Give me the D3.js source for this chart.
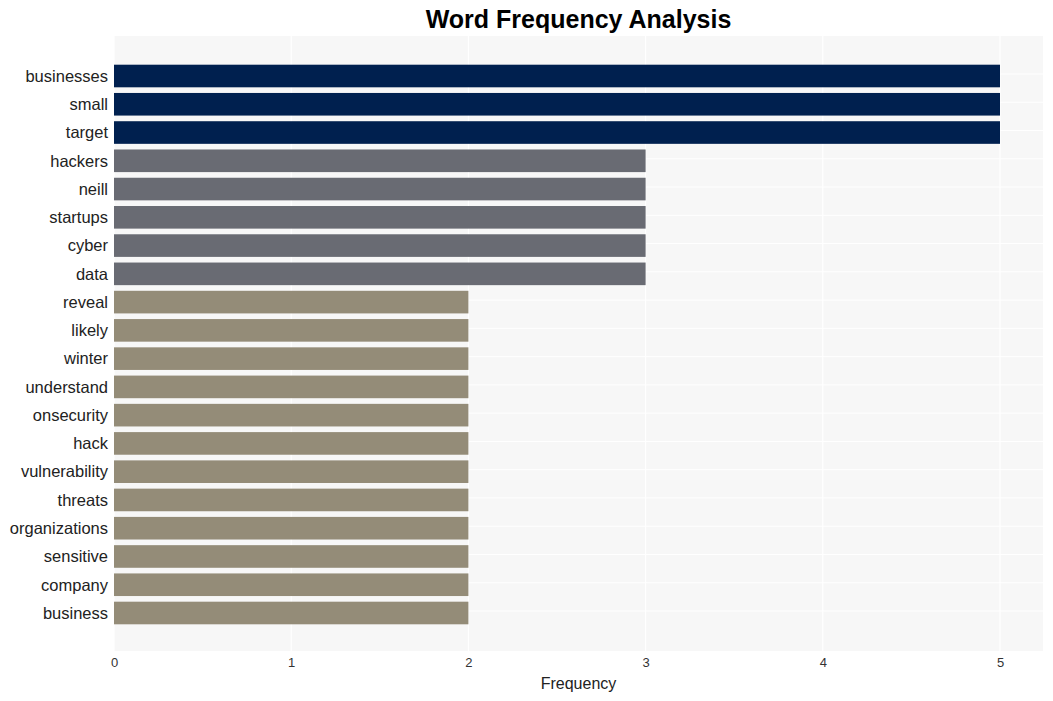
<!DOCTYPE html>
<html>
<head>
<meta charset="utf-8">
<script src="https://cdn.jsdelivr.net/npm/d3@7"></script>
<style>
  body { margin: 0; background: #fff; font-family: "Liberation Sans", Arial, sans-serif; }
  .tick text { fill: #333; }
</style>
</head>
<body>
<div id="chart"></div>
<script>
// words and counts, top to bottom
const words = ["businesses", "small", "target", "hackers", "neill", "startups", "cyber", "data",
  "reveal", "likely", "winter", "understand", "onsecurity", "hack", "vulnerability", "threats",
  "organizations", "sensitive", "company", "business"];
const counts = [5, 5, 5, 3, 3, 3, 3, 3, 2, 2, 2, 2, 2, 2, 2, 2, 2, 2, 2, 2];
const xTicks = [0, 1, 2, 3, 4, 5];

const width = 1053, height = 701;
const plot = { left: 114, top: 36, right: 1043, bottom: 651 };

const colorFor = v => v >= 5 ? "#00204f" : v >= 3 ? "#696b73" : "#948c78";

const svg = d3.select("#chart").append("svg")
    .attr("width", width)
    .attr("height", height);

const x = d3.scaleLinear()
    .domain([0, 5])
    .range([plot.left, 1000]);

const y = d3.scaleBand()
    .domain(words)
    .range([plot.top + 1, plot.bottom + 1])
    .paddingInner(0.2)
    .paddingOuter(0.98);

// background
svg.append("rect")
    .attr("x", plot.left)
    .attr("y", plot.top)
    .attr("width", plot.right - plot.left)
    .attr("height", plot.bottom - plot.top)
    .attr("fill", "#f7f7f7");

// grid
svg.append("g")
    .selectAll("line")
    .data(xTicks)
    .enter()
    .append("line")
        .attr("x1", d => x(d))
        .attr("x2", d => x(d))
        .attr("y1", plot.top)
        .attr("y2", plot.bottom)
        .attr("stroke", "#fff")
        .attr("stroke-width", 1.2);

svg.append("g")
    .selectAll("line")
    .data(words)
    .enter()
    .append("line")
        .attr("x1", plot.left)
        .attr("x2", plot.right)
        .attr("y1", d => y(d) + y.bandwidth() / 2 - 2)
        .attr("y2", d => y(d) + y.bandwidth() / 2 - 2)
        .attr("stroke", "#fff")
        .attr("stroke-width", 1);

// bars
svg.append("g")
    .selectAll("rect")
    .data(words)
    .enter()
    .append("rect")
        .attr("x", x(0))
        .attr("y", d => y(d))
        .attr("width", (d, i) => x(counts[i]) - x(0))
        .attr("height", y.bandwidth())
        .attr("fill", (d, i) => colorFor(counts[i]));

// y labels
svg.append("g")
    .selectAll("text")
    .data(words)
    .enter()
    .append("text")
        .attr("x", plot.left - 6)
        .attr("y", d => y(d) + y.bandwidth() / 2)
        .attr("dy", "0.35em")
        .attr("text-anchor", "end")
        .attr("font-size", 16.5)
        .attr("fill", "#222")
        .text(d => d);

// x axis
const xAxis = svg.append("g")
    .attr("transform", `translate(0,${plot.bottom})`)
    .call(d3.axisBottom(x).tickValues(xTicks).tickFormat(d3.format("d")).tickSize(0).tickPadding(7));
xAxis.select(".domain").remove();
xAxis.selectAll("text").attr("font-size", 13).attr("font-family", "Liberation Sans, Arial, sans-serif");

svg.append("text")
    .attr("x", (plot.left + plot.right) / 2)
    .attr("y", 689)
    .attr("text-anchor", "middle")
    .attr("font-size", 16)
    .attr("fill", "#222")
    .text("Frequency");

// title
svg.append("text")
    .attr("x", (plot.left + plot.right) / 2)
    .attr("y", 28)
    .attr("text-anchor", "middle")
    .attr("font-size", 25)
    .attr("font-weight", "bold")
    .attr("fill", "#000")
    .text("Word Frequency Analysis");
</script>
</body>
</html>
